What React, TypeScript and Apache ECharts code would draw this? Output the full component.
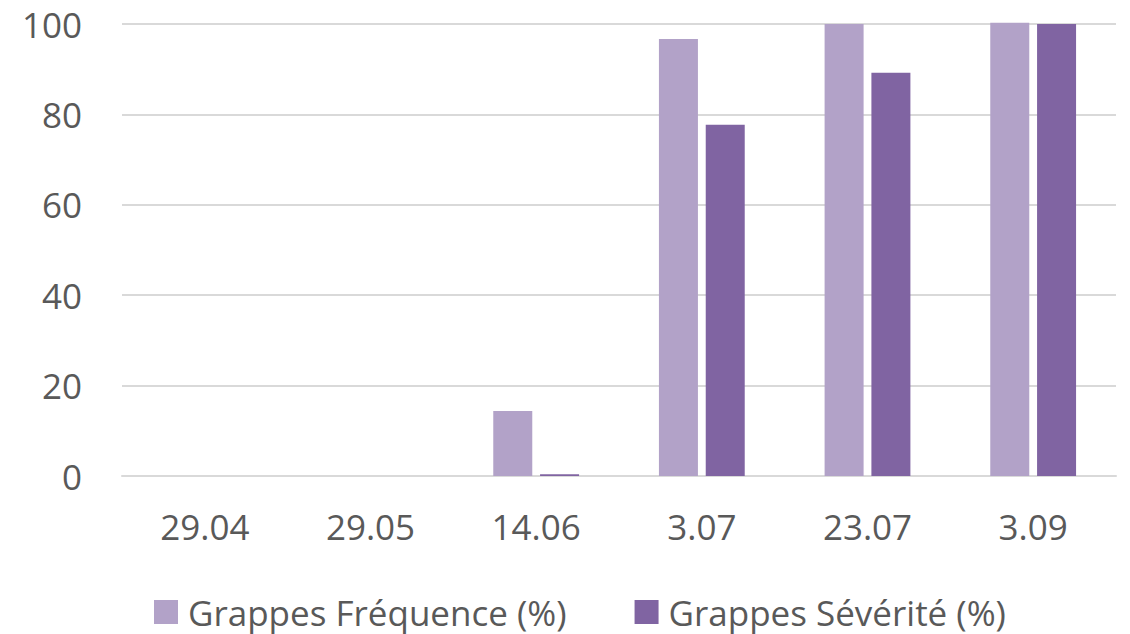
import React, { useEffect, useRef } from "react";
import * as echarts from "echarts";

// Sampling dates and infection percentages for grape clusters
const dates = ["29.04", "29.05", "14.06", "3.07", "23.07", "3.09"];
const frequence = [0, 0, 14.4, 96.7, 100, 100.3];
const severite = [0, 0, 0.4, 77.7, 89.2, 100];
const seriesNames = ["Grappes Fréquence (%)", "Grappes Sévérité (%)"];

const FONT = "'Open Sans', 'Liberation Sans', sans-serif";
const TEXT = "#595959";
const GRID = "#d9d9d9";

export default function App() {
  const ref = useRef<HTMLDivElement>(null);

  useEffect(() => {
    document.body.style.margin = "0";
    if (!ref.current) return;
    const chart = echarts.init(ref.current, null, { renderer: "svg" });
    chart.setOption({
      animation: false,
      backgroundColor: "#ffffff",
      textStyle: { fontFamily: FONT },
      grid: { left: 122, right: 14, top: 24, bottom: 158, containLabel: false },
      legend: {
        left: 154,
        top: 593,
        padding: 0,
        itemWidth: 24,
        itemHeight: 24,
        itemGap: 68,
        icon: "rect",
        textStyle: {
          fontFamily: FONT,
          fontSize: 35,
          lineHeight: 38,
          color: TEXT,
          padding: [0, 0, 0, 5],
        },
        data: seriesNames,
      },
      xAxis: {
        type: "category",
        data: dates,
        axisLine: { show: true, lineStyle: { color: GRID, width: 2 } },
        axisTick: { show: false },
        axisLabel: {
          color: TEXT,
          fontFamily: FONT,
          fontSize: 35,
          margin: 33,
        },
      },
      yAxis: {
        type: "value",
        min: 0,
        max: 100,
        interval: 20,
        axisLine: { show: false },
        axisTick: { show: false },
        splitLine: { lineStyle: { color: GRID, width: 2 } },
        axisLabel: {
          color: TEXT,
          fontFamily: FONT,
          fontSize: 35,
          margin: 40,
        },
      },
      series: [
        {
          name: seriesNames[0],
          type: "bar",
          data: frequence,
          barWidth: 39,
          barGap: "20%",
          clip: false,
          itemStyle: { color: "#b2a2c8" },
        },
        {
          name: seriesNames[1],
          type: "bar",
          data: severite,
          barWidth: 39,
          clip: false,
          itemStyle: { color: "#8064a2" },
        },
      ],
    });
    return () => chart.dispose();
  }, []);

  return <div ref={ref} style={{ width: 1130, height: 634 }} />;
}
